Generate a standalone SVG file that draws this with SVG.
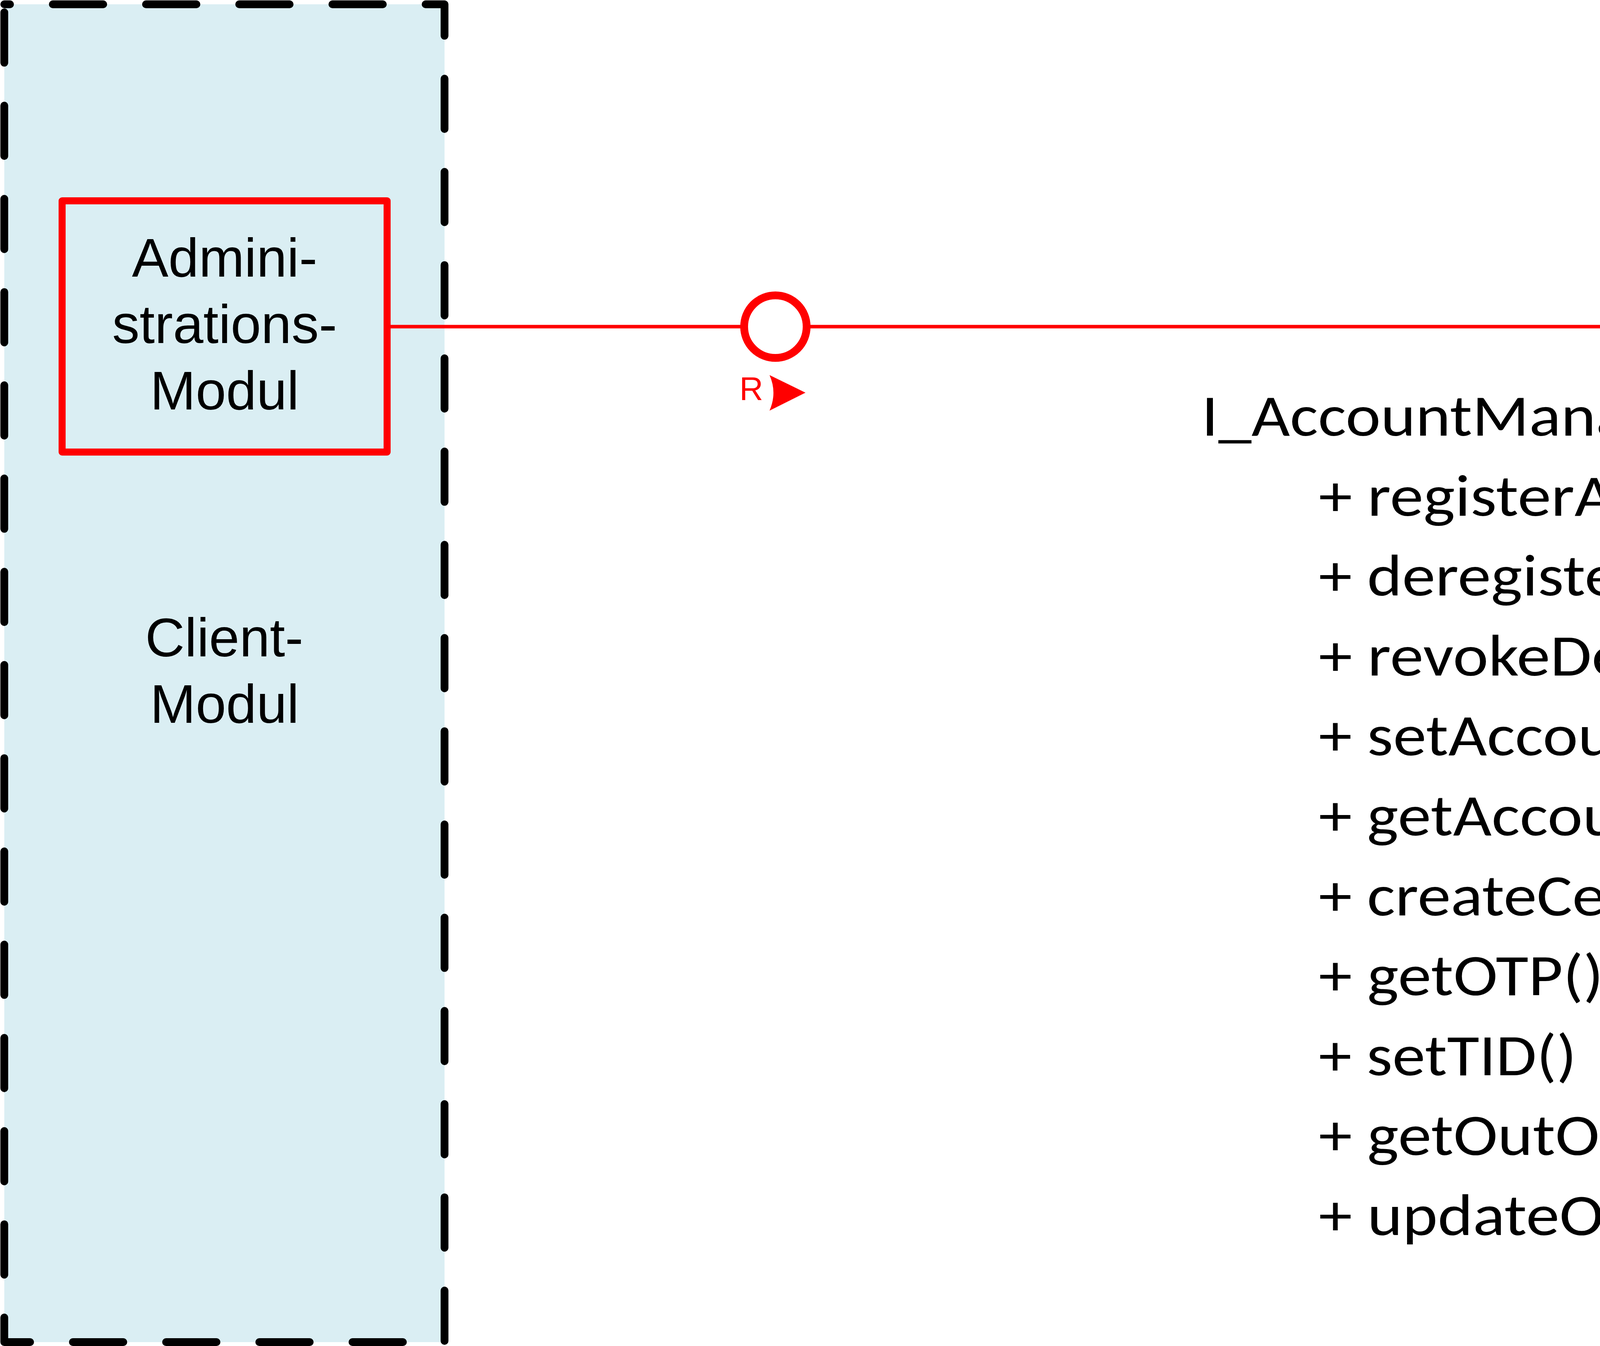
<svg xmlns="http://www.w3.org/2000/svg" width="6069" height="3445" viewBox="0 0 6069 3445">
<style>
.arial{font-family:"Liberation Sans",Arial,sans-serif;font-size:140px;fill:#000;text-anchor:middle}
.iface{font-family:Calibri,Carlito,Lato,"Open Sans",sans-serif;font-size:150px;fill:#000}
</style>
<rect x="0" y="0" width="6069" height="3445" fill="#FFFFFF"/>
<g id="client-modul">
<rect x="11" y="11" width="1127" height="3424" fill="#DAEEF3"/>
<path d="M11,11 V3435 H1138 V11 Z" fill="none" stroke="#000" stroke-width="20" stroke-linecap="round" stroke-linejoin="round" stroke-dasharray="129 109.6" stroke-dashoffset="218"/>
<text class="arial" x="574" y="1680">Client-</text>
<text class="arial" x="575" y="1850">Modul</text>
</g>
<g id="connectors">
<line x1="991" y1="836" x2="5316" y2="836" stroke="#FF0000" stroke-width="9"/>
</g>
<g id="admin-modul">
<rect x="159" y="514" width="832" height="643" fill="none" stroke="#FF0000" stroke-width="18" stroke-linejoin="round"/>
<text class="arial" x="575" y="708">Admini-</text>
<text class="arial" x="575" y="878">strations-</text>
<text class="arial" x="575" y="1048">Modul</text>
</g>
<g id="interface">
<circle cx="1985" cy="836" r="80" fill="#FFFFFF" stroke="#FF0000" stroke-width="20"/>
<text x="1893" y="1024" font-family="Liberation Sans,Arial,sans-serif" font-size="84" fill="#FF0000">R</text>
<path d="M1970,960 L2062,1005 L1970,1051 Q1990,1005 1970,960 Z" fill="#FF0000"/>
<text class="iface" x="3076" y="1115" textLength="1895" lengthAdjust="spacingAndGlyphs">I_AccountManager_Service</text>
<text class="iface" x="3376" y="1320" textLength="1330" lengthAdjust="spacingAndGlyphs">+ registerAccount()</text>
<text class="iface" x="3376" y="1524" textLength="1496" lengthAdjust="spacingAndGlyphs">+ deregisterAccount()</text>
<text class="iface" x="3376" y="1729" textLength="1690" lengthAdjust="spacingAndGlyphs">+ revokeDeregistration()</text>
<text class="iface" x="3376" y="1933" textLength="1002" lengthAdjust="spacingAndGlyphs">+ setAccount()</text>
<text class="iface" x="3376" y="2138" textLength="1014" lengthAdjust="spacingAndGlyphs">+ getAccount()</text>
<text class="iface" x="3376" y="2343" textLength="954" lengthAdjust="spacingAndGlyphs">+ createCert()</text>
<text class="iface" x="3376" y="2547" textLength="729" lengthAdjust="spacingAndGlyphs">+ getOTP()</text>
<text class="iface" x="3376" y="2752" textLength="660" lengthAdjust="spacingAndGlyphs">+ setTID()</text>
<text class="iface" x="3376" y="2956" textLength="1284" lengthAdjust="spacingAndGlyphs">+ getOutOfOffice()</text>
<text class="iface" x="3376" y="3161" textLength="1557" lengthAdjust="spacingAndGlyphs">+ updateOutOfOffice()</text>
</g>
<g id="account-manager">
<rect x="5326" y="514" width="732" height="643" fill="#F2F2F2" stroke="#000" stroke-width="20" stroke-linejoin="round"/>
<text class="arial" x="5692" y="792">Account</text>
<text class="arial" x="5692" y="964">Manager</text>
</g>
</svg>
